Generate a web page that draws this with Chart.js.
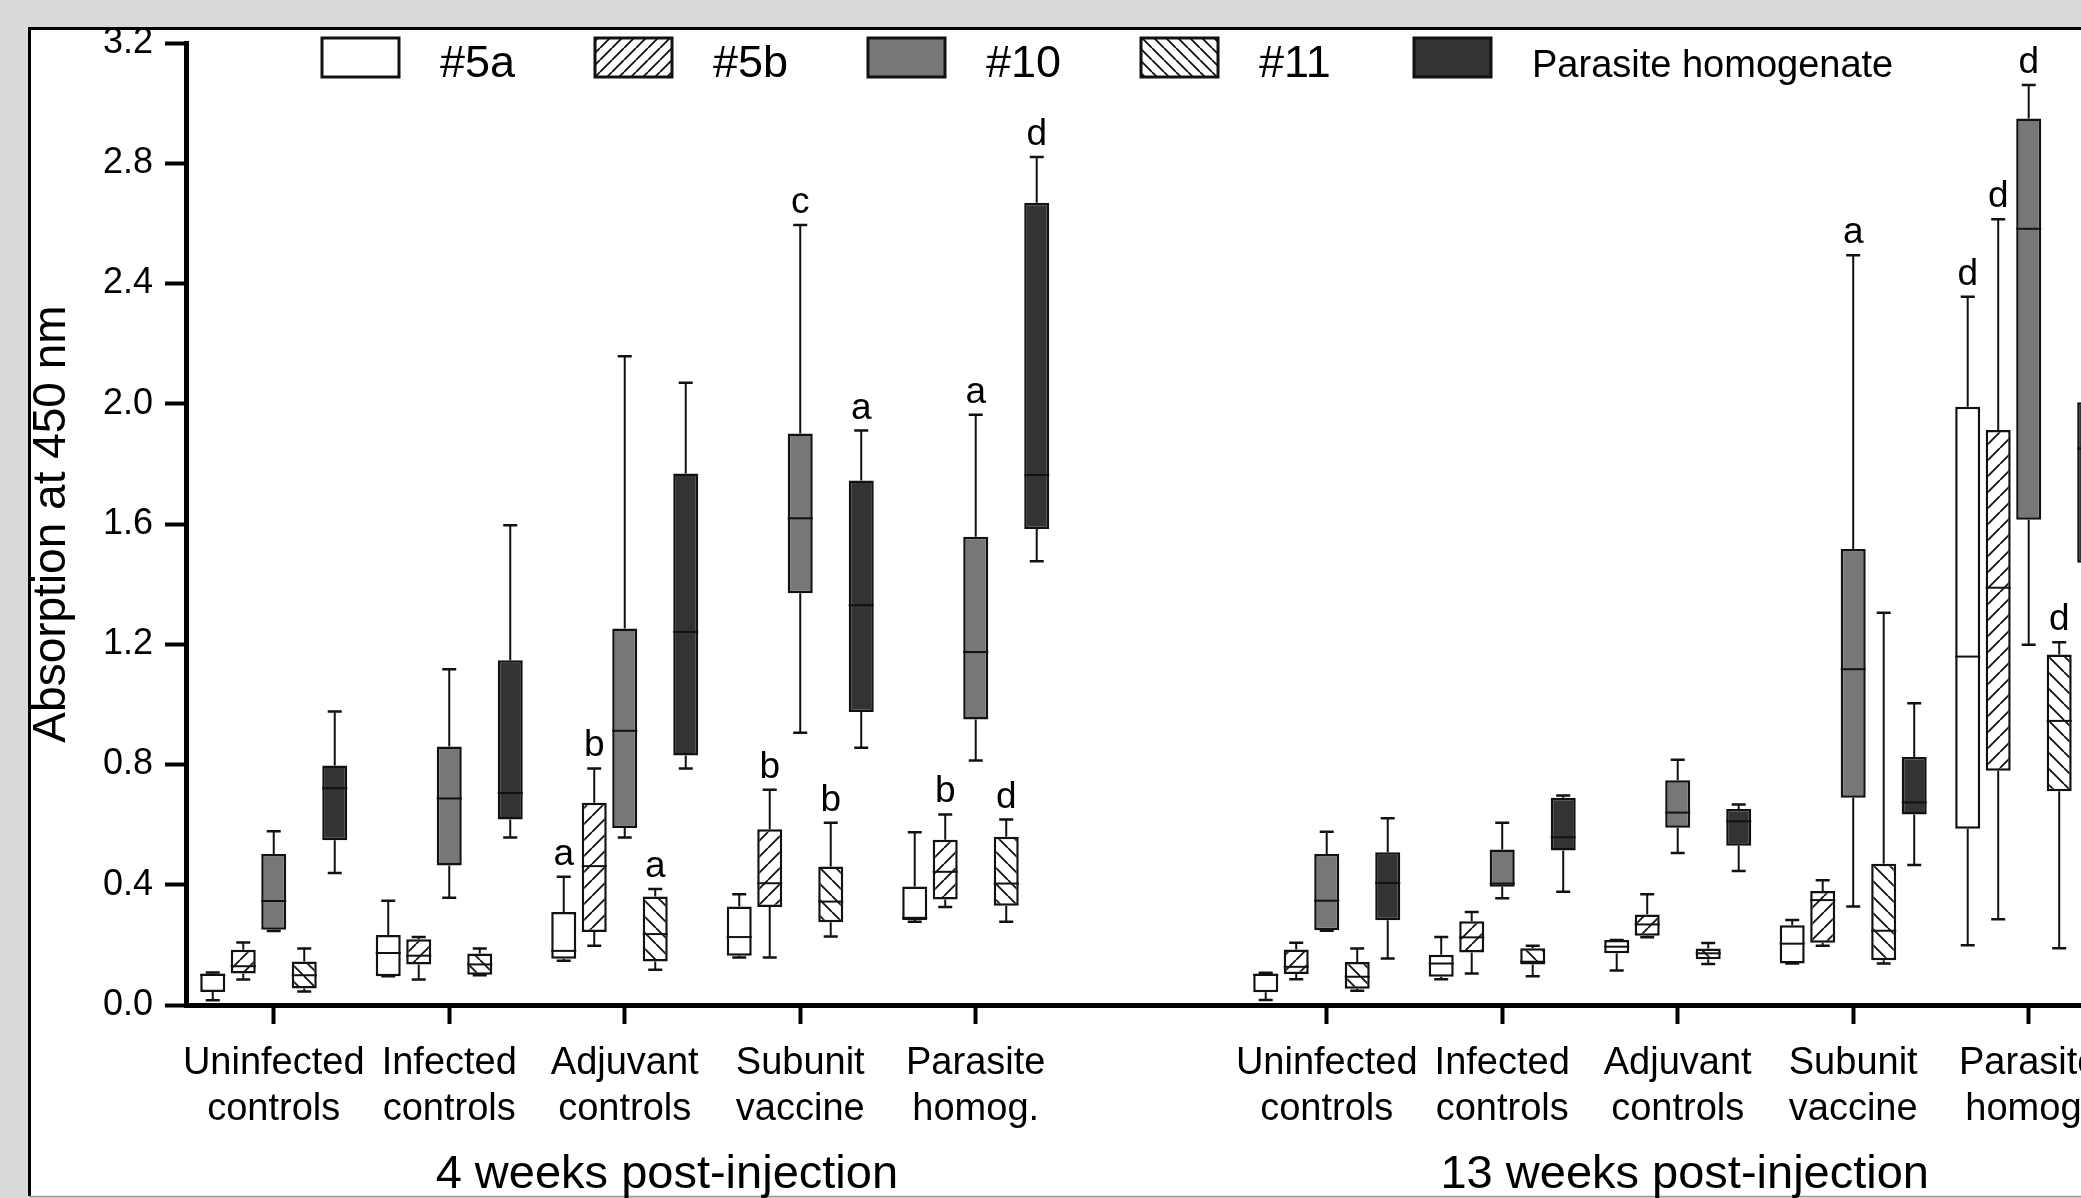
<!DOCTYPE html>
<html><head><meta charset="utf-8">
<script src="https://cdn.jsdelivr.net/npm/chart.js@4.4.1/dist/chart.umd.min.js"></script>
<style>html,body{margin:0;padding:0;background:#d9d9d9;overflow:hidden}canvas{display:block}</style>
</head><body>
<canvas id="c" width="2081" height="1198"></canvas>
<script>
// ---------------- DATA ----------------
const categories = [['Uninfected','controls'],['Infected','controls'],['Adjuvant','controls'],['Subunit','vaccine'],['Parasite','homog.']];
const periods = ['4 weeks post-injection','13 weeks post-injection'];
const slots = [0,1,2,3,4,6,7,8,9,10];           // category slot of each box group (slot 5 = gap)
const periodCenters = [2.24, 8.04];              // slot position of the period titles
const seriesNames = ['#5a','#5b','#10','#11','Parasite homogenate'];
const yTickValues = [0,0.4,0.8,1.2,1.6,2.0,2.4,2.8,3.2];

// each row: [min, q1, median, q3, max]
const s5a = [
  [0.016,0.043,0.100,0.105,0.108],[0.096,0.096,0.173,0.233,0.347],[0.147,0.154,0.180,0.309,0.427],
  [0.158,0.164,0.226,0.328,0.368],[0.277,0.283,0.290,0.394,0.575],
  [0.017,0.042,0.100,0.105,0.107],[0.086,0.094,0.138,0.167,0.226],[0.115,0.172,0.194,0.216,0.216],
  [0.138,0.138,0.204,0.265,0.283],[0.199,0.586,1.159,1.990,2.356]];
const s5b = [
  [0.085,0.105,0.129,0.184,0.208],[0.085,0.135,0.164,0.219,0.226],[0.197,0.243,0.462,0.673,0.787],
  [0.158,0.326,0.405,0.585,0.716],[0.326,0.351,0.443,0.550,0.634],
  [0.086,0.103,0.127,0.185,0.207],[0.105,0.175,0.225,0.279,0.309],[0.225,0.230,0.268,0.301,0.368],
  [0.197,0.207,0.349,0.379,0.415],[0.285,0.779,1.388,1.913,2.614]];
const s10 = [
  [0.246,0.250,0.346,0.502,0.578],[0.357,0.464,0.687,0.860,1.117],[0.557,0.589,0.912,1.252,2.158],
  [0.906,1.370,1.619,1.901,2.595],[0.813,0.950,1.174,1.558,1.963],
  [0.247,0.249,0.347,0.502,0.576],[0.355,0.393,0.404,0.517,0.606],[0.506,0.590,0.640,0.748,0.816],
  [0.328,0.689,1.117,1.517,2.494],[1.198,1.614,2.582,2.949,3.060]];
const s11 = [
  [0.045,0.055,0.099,0.145,0.188],[0.099,0.101,0.135,0.171,0.188],[0.117,0.145,0.236,0.361,0.386],
  [0.228,0.275,0.344,0.461,0.606],[0.277,0.330,0.404,0.560,0.617],
  [0.047,0.054,0.094,0.143,0.188],[0.096,0.135,0.144,0.189,0.197],[0.136,0.152,0.172,0.188,0.206],
  [0.138,0.149,0.247,0.470,1.305],[0.189,0.711,0.945,1.166,1.207]];
const sPH = [
  [0.439,0.548,0.721,0.797,0.976],[0.557,0.617,0.705,1.147,1.596],[0.787,0.830,1.241,1.768,2.070],
  [0.856,0.975,1.330,1.745,1.911],[1.476,1.583,1.763,2.669,2.821],
  [0.155,0.282,0.406,0.508,0.621],[0.377,0.514,0.558,0.689,0.697],[0.446,0.530,0.611,0.652,0.667],
  [0.466,0.634,0.674,0.825,1.004],[1.050,1.471,1.851,2.005,2.370]];

// significance letters above each box
const l5a = ['','','a','','','','','','','d'];
const l5b = ['','','b','b','b','','','','','d'];
const l10 = ['','','','c','a','','','','a','d'];
const l11 = ['','','a','b','d','','','','','d'];
const lPH = ['','','','a','d','','','','','d'];

// ---------------- STYLE ----------------
const FONT = "'Liberation Sans', Arial, Helvetica, sans-serif";
const INK = '#111';
function hatch(dir, s, lw) {
  const c = document.createElement('canvas'); c.width = s; c.height = s;
  const g = c.getContext('2d');
  g.fillStyle = '#fff'; g.fillRect(0,0,s,s);
  g.strokeStyle = INK; g.lineWidth = lw; g.beginPath();
  for (const k of [-s,0,s]) {
    if (dir > 0) { g.moveTo(k, s); g.lineTo(k+s, 0); }
    else { g.moveTo(k, 0); g.lineTo(k+s, s); }
  }
  g.stroke();
  return document.getElementById('c').getContext('2d').createPattern(c, 'repeat');
}
const fills = ['#ffffff', hatch(1,16,1.8), '#777777', hatch(-1,16,1.8), '#333333'];
const legendFills = ['#ffffff', hatch(1,12,1.8), '#777777', hatch(-1,12,1.8), '#333333'];

const allStats = [s5a, s5b, s10, s11, sPH];
const allLetters = [l5a, l5b, l10, l11, lPH];

const datasets = seriesNames.map((name, si) => ({
  label: name,
  data: slots.map((x, i) => ({x: x, y: [allStats[si][i][1], allStats[si][i][3]]})),
  stats: allStats[si],
  letters: allLetters[si],
  backgroundColor: fills[si],
  borderColor: INK,
  borderWidth: 2.5,
  borderSkipped: false,
  categoryPercentage: 0.869,
  barPercentage: 0.82
}));

const framePlugin = {
  id: 'frame',
  beforeDraw(chart) {
    const ctx = chart.ctx, W = chart.width, H = chart.height;
    ctx.save();
    ctx.fillStyle = '#d9d9d9'; ctx.fillRect(0,0,W,H);
    ctx.fillStyle = '#ffffff'; ctx.fillRect(29,28,W-29,1196-28);
    ctx.strokeStyle = '#000'; ctx.lineWidth = 3;
    ctx.beginPath(); ctx.moveTo(29.5, 1196); ctx.lineTo(29.5, 28.5); ctx.lineTo(W, 28.5); ctx.stroke();
    ctx.strokeStyle = '#9a9a9a'; ctx.lineWidth = 1.5;
    ctx.beginPath(); ctx.moveTo(29, 1196.5); ctx.lineTo(W, 1196.5); ctx.stroke();
    ctx.restore();
  }
};

const boxPlugin = {
  id: 'boxes',
  afterDatasetsDraw(chart) {
    const ctx = chart.ctx, ys = chart.scales.y, xs = chart.scales.x;
    ctx.save();
    ctx.strokeStyle = INK; ctx.fillStyle = '#000';
    chart.data.datasets.forEach((ds, di) => {
      const meta = chart.getDatasetMeta(di);
      meta.data.forEach((bar, i) => {
        const [mn, q1, md, q3, mx] = ds.stats[i];
        const px = bar.x, w = bar.width, cap = 14;
        ctx.lineWidth = 2;
        ctx.beginPath();
        ctx.moveTo(px, ys.getPixelForValue(q3)); ctx.lineTo(px, ys.getPixelForValue(mx));
        ctx.moveTo(px, ys.getPixelForValue(q1)); ctx.lineTo(px, ys.getPixelForValue(mn));
        ctx.stroke();
        ctx.lineWidth = 2.5;
        ctx.beginPath();
        ctx.moveTo(px-cap/2, ys.getPixelForValue(mx)); ctx.lineTo(px+cap/2, ys.getPixelForValue(mx));
        ctx.moveTo(px-cap/2, ys.getPixelForValue(mn)); ctx.lineTo(px+cap/2, ys.getPixelForValue(mn));
        ctx.stroke();
        ctx.lineWidth = 2;
        ctx.beginPath();
        ctx.moveTo(px-w/2, ys.getPixelForValue(md)); ctx.lineTo(px+w/2, ys.getPixelForValue(md));
        ctx.stroke();
        const L = ds.letters[i];
        if (L) {
          ctx.font = '37px ' + FONT; ctx.textAlign = 'center'; ctx.textBaseline = 'alphabetic';
          ctx.fillText(L, px, ys.getPixelForValue(mx) - 12);
        }
      });
    });
    // period titles
    ctx.font = '47px ' + FONT; ctx.textAlign = 'center'; ctx.textBaseline = 'alphabetic';
    periods.forEach((p, k) => ctx.fillText(p, xs.getPixelForValue(periodCenters[k]), 1188));
    // legend
    seriesNames.forEach((name, si) => {
      const bx = 322 + 273*si, by = 38;
      ctx.fillStyle = legendFills[si]; ctx.fillRect(bx, by, 77, 39);
      ctx.lineWidth = 3; ctx.strokeStyle = INK; ctx.strokeRect(bx, by, 77, 39);
      ctx.fillStyle = '#000';
      ctx.font = (si === 4 ? '38px ' : '45px ') + FONT; ctx.textAlign = 'left';
      ctx.fillText(name, bx + 118, 77);
    });
    ctx.restore();
  }
};

new Chart(document.getElementById('c'), {
  type: 'bar',
  data: { datasets },
  plugins: [framePlugin, boxPlugin],
  options: {
    responsive: false, animation: false, devicePixelRatio: 1,
    layout: { padding: { top: 43, left: 0, right: 0, bottom: 0 } },
    plugins: { legend: { display: false }, tooltip: { enabled: false } },
    scales: {
      x: {
        type: 'linear', min: -0.5, max: 10.298, offset: false,
        afterBuildTicks: (axis) => { axis.ticks = slots.map(v => ({value: v})); },
        afterFit: (s) => { s.height = 193; s.paddingLeft = 0; s.paddingRight = 0; },
        ticks: {
          autoSkip: false, maxRotation: 0, minRotation: 0, padding: 17, color: '#000',
          font: { family: FONT, size: 38, lineHeight: 1.21 },
          callback: (v) => { const i = slots.indexOf(v); return i < 0 ? '' : categories[i % 5]; }
        },
        grid: { display: true, drawOnChartArea: false, drawTicks: true, tickLength: 19, tickWidth: 4, tickColor: '#000', offset: false },
        border: { display: true, width: 5, color: '#000' }
      },
      y: {
        type: 'linear', min: 0, max: 3.2,
        afterBuildTicks: (axis) => { axis.ticks = yTickValues.map(v => ({value: v})); },
        afterFit: (s) => { s.width = 186; },
        ticks: { padding: 12, color: '#000', font: { family: FONT, size: 36 }, callback: (v) => v.toFixed(1) },
        grid: { display: true, drawOnChartArea: false, drawTicks: true, tickLength: 21, tickWidth: 4, tickColor: '#000' },
        border: { display: true, width: 5, color: '#000' },
        title: { display: true, text: 'Absorption at 450 nm', color: '#000', font: { family: FONT, size: 46 }, padding: { top: 25, bottom: 0 } }
      }
    }
  }
});
</script>
</body></html>
